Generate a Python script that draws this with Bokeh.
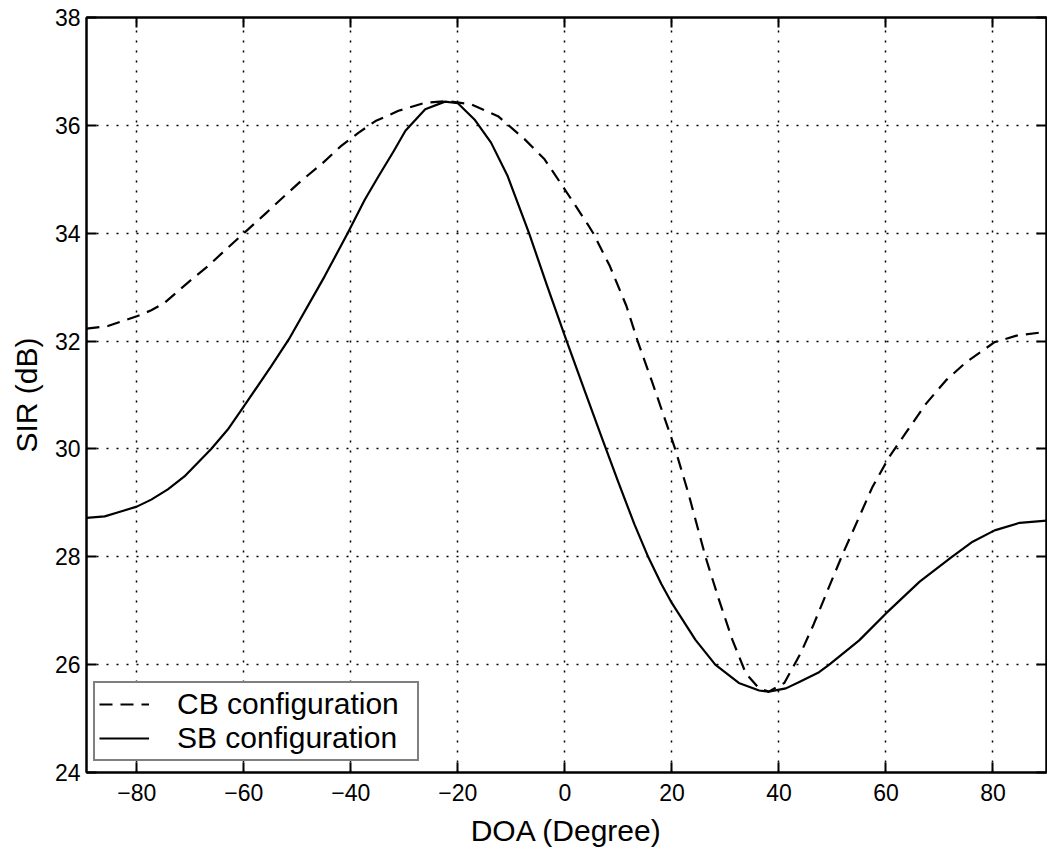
from bokeh.plotting import figure
from bokeh.models import Range1d, LinearAxis, FixedTicker, Legend, LegendItem
from bokeh.embed import file_html
from bokeh.resources import INLINE

# ---- data ----
sb_doa = [-89.4, -86.0, -83.6, -80, -77.3, -74.2, -71.1, -66.1, -63.0, -60, -54.9, -51.6,
          -44.9, -40.6, -37.4, -34.8, -32.0, -29.8, -26.1, -22.4, -20.0, -16.9, -13.8,
          -10.7, -6.7, -3.3, 0.0, 3.4, 7.0, 10.0, 13.0, 15.6, 18.0, 20.0, 24.4, 28.1, 32.5,
          36.3, 38.1, 41.3, 43.8, 47.5, 49.4, 55.0, 60.0, 66.3, 72.2, 76.2, 80.3, 85.0, 90.0]
sb_sir = [28.72, 28.75, 28.82, 28.93, 29.06, 29.25, 29.49, 30.0, 30.36, 30.79, 31.53, 32.03,
          33.2, 34.0, 34.62, 35.06, 35.52, 35.9, 36.3, 36.44, 36.41, 36.11, 35.68,
          35.06, 34.0, 33.02, 32.09, 31.16, 30.18, 29.38, 28.6, 27.99, 27.5, 27.14, 26.46, 26.0, 25.66,
          25.52, 25.5, 25.56, 25.68, 25.86, 26.0, 26.45, 26.95, 27.54, 27.99, 28.28, 28.49, 28.63, 28.67]

cb_doa = [-89.4, -85.4, -83.6, -80, -77.3, -74.8, -70.5, -66.7, -63, -60, -56.1, -52.4, -49.3,
          -45.5, -41.8, -38.6, -35.4, -31.1, -26.1, -21.8, -17.5, -12.5, -7.5, -3.8, 0.0, 4.1,
          5.3, 8.4, 11.5, 13.6, 16.2, 19.4, 20.6, 23.1, 26.3, 28.8, 31.3, 33.8, 36.3,
          38.1, 41.0, 44.0, 46.5, 49.4, 52.0, 55.0, 57.5, 60.6, 63.8, 67.5, 71.2, 75.0,
          80.3, 84.4, 89.8]
cb_sir = [32.23, 32.28, 32.34, 32.46, 32.57, 32.71, 33.08, 33.39, 33.73, 34.0, 34.35, 34.69, 34.97,
          35.28, 35.62, 35.86, 36.08, 36.27, 36.42, 36.45, 36.39, 36.17, 35.74, 35.37, 34.81, 34.19,
          34.0, 33.39, 32.65, 32.0, 31.27, 30.35, 30.0, 29.17, 27.99, 27.2, 26.46, 25.84, 25.56,
          25.5, 25.66, 26.2, 26.75, 27.45, 28.07, 28.74, 29.3, 29.85, 30.31, 30.84, 31.27, 31.61,
          31.98, 32.1, 32.17]

x_ticks = [-80, -60, -40, -20, 0, 20, 40, 60, 80]
x_tick_labels = ["\u221280", "\u221260", "\u221240", "\u221220", "0", "20", "40", "60", "80"]
y_ticks = [24, 26, 28, 30, 32, 34, 36, 38]
y_tick_labels = ["24", "26", "28", "30", "32", "34", "36", "38"]
x_label = "DOA (Degree)"
y_label = "SIR (dB)"
series_names = ["CB configuration", "SB configuration"]

FONT = "Liberation Sans"

p = figure(width=1047, height=851, output_backend="svg", toolbar_location=None,
           x_range=Range1d(-89.4, 90), y_range=Range1d(24, 38),
           x_axis_location="below", y_axis_location="left")
p.min_border_left = 86
p.min_border_right = 1
p.min_border_top = 17
p.min_border_bottom = 79
p.background_fill_color = "white"
p.border_fill_color = "white"
p.outline_line_color = "black"
p.outline_line_width = 2

for ax, ticks, labels in ((p.xaxis[0], x_ticks, x_tick_labels), (p.yaxis[0], y_ticks, y_tick_labels)):
    ax.ticker = FixedTicker(ticks=ticks)
    ax.major_label_overrides = {t: l for t, l in zip(ticks, labels)}
    ax.major_tick_in = 10
    ax.major_tick_out = 0
    ax.minor_tick_in = 0
    ax.minor_tick_out = 0
    ax.axis_line_width = 2
    ax.major_tick_line_width = 2
    ax.major_label_text_font = FONT
    ax.major_label_text_font_size = "23px"
    ax.major_label_text_color = "black"
    ax.axis_label_text_font = FONT
    ax.axis_label_text_font_size = "30px"
    ax.axis_label_text_font_style = "normal"
    ax.axis_label_text_color = "black"

p.xaxis[0].axis_label = x_label
p.yaxis[0].axis_label = y_label
p.xaxis[0].major_label_standoff = 11
p.xaxis[0].axis_label_standoff = 10
p.yaxis[0].major_label_standoff = 6
p.yaxis[0].axis_label_standoff = 9

# ticks on top and right (box on)
top = LinearAxis(ticker=FixedTicker(ticks=x_ticks), major_label_overrides={t: "" for t in x_ticks})
right = LinearAxis(ticker=FixedTicker(ticks=y_ticks), major_label_overrides={t: "" for t in y_ticks})
for ax in (top, right):
    ax.major_tick_in = 10
    ax.major_tick_out = 0
    ax.minor_tick_in = 0
    ax.minor_tick_out = 0
    ax.axis_line_width = 2
    ax.major_tick_line_width = 2
    ax.major_label_standoff = 0
    ax.major_label_text_font_size = "1px"
p.add_layout(top, "above")
p.add_layout(right, "right")

for g, ticks in ((p.xgrid[0], x_ticks), (p.ygrid[0], y_ticks)):
    g.grid_line_color = "black"
    g.grid_line_width = 1.5
    g.grid_line_dash = "2 8"
    g.grid_line_alpha = 1.0
    g.ticker = FixedTicker(ticks=ticks)

r_cb = p.line(cb_doa, cb_sir, line_color="black", line_width=2.2, line_dash="13 8",
              line_join="round")
r_sb = p.line(sb_doa, sb_sir, line_color="black", line_width=2.2, line_join="round")

legend = Legend(items=[LegendItem(label=series_names[0], renderers=[r_cb]),
                       LegendItem(label=series_names[1], renderers=[r_sb])],
                location=(7, 11))
legend.label_text_font = FONT
legend.label_text_font_size = "30px"
legend.label_text_color = "black"
legend.label_standoff = 28
legend.glyph_width = 50
legend.glyph_height = 30
legend.label_height = 30
legend.label_width = 236
legend.spacing = 0
legend.padding = 4
legend.margin = 0
legend.border_line_color = "black"
legend.border_line_width = 2
legend.background_fill_color = "white"
legend.background_fill_alpha = 1.0
p.add_layout(legend, "center")

open("out.html", "w").write(file_html(p, INLINE))
